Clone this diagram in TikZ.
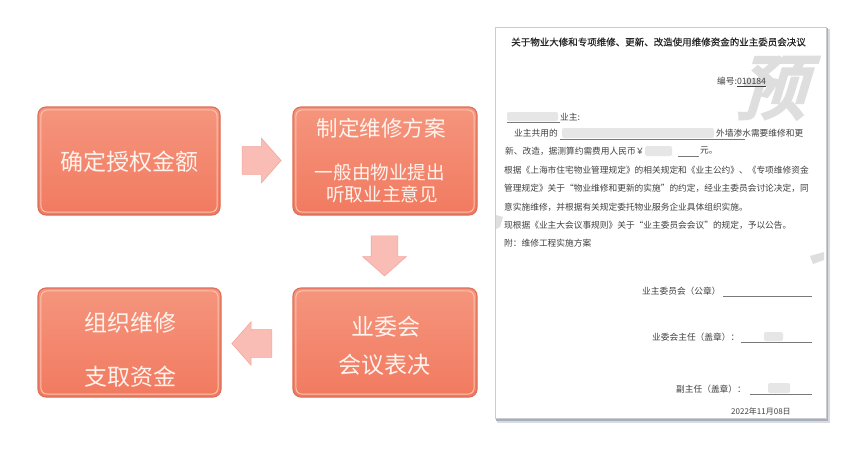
\documentclass[tikz,border=0pt]{standalone}
\usepackage{fontspec}
\setmainfont{Noto Sans CJK SC}
\newfontfamily\wmfont{Noto Sans CJK SC}[FakeBold=5,FakeSlant=0.3]
\newfontfamily\ttlfont{Noto Sans CJK SC}[FakeBold=0.6]
\usetikzlibrary{shapes.arrows}
\definecolor{boxtop}{HTML}{F5957D}
\definecolor{boxbot}{HTML}{F17A60}
\definecolor{boxedge}{HTML}{DD6E56}
\definecolor{boxhl}{HTML}{FBC2AF}
\definecolor{boxtxt}{HTML}{FFF3EE}
\definecolor{arrfill}{HTML}{F9BDB5}
\definecolor{arredge}{HTML}{F2A69D}
\definecolor{doctxt}{HTML}{404040}
\definecolor{docshadow}{HTML}{A9AFB8}
\definecolor{docedge}{HTML}{C9CDD3}
\definecolor{blurc}{HTML}{E6E6E6}
\definecolor{wmc}{HTML}{DEDEDE}
\begin{document}
\begin{tikzpicture}[x=1pt,y=-1pt,
  stepbox/.style={draw=boxedge, line width=1.1pt, rounded corners=8pt, top color=boxtop, bottom color=boxbot, inner sep=0pt},
  boxtext/.style={text=boxtxt, inner sep=0pt, anchor=center},
  blockarrow/.style={single arrow, draw=arredge, fill=arrfill, line width=0.6pt, inner xsep=0pt, inner ysep=13.5pt, single arrow head extend=8.5pt, single arrow tip angle=97},
  doctext/.style={text=doctxt, inner sep=0pt, anchor=west, font=\fontsize{8.7pt}{10pt}\selectfont},
  blur/.style={fill=blurc, rounded corners=2pt},
  uline/.style={draw=doctxt!70, line width=0.5pt}
]
\useasboundingbox (0,0) rectangle (855,467);
\fill[white] (0,0) rectangle (855,467);

% ---- process boxes ----
\node[stepbox, minimum width=182pt, minimum height=108pt] (b1) at (129,161) {};
\node[stepbox, minimum width=184pt, minimum height=108pt] (b2) at (385,161) {};
\node[stepbox, minimum width=184pt, minimum height=109pt] (b3) at (385,342.5) {};
\node[stepbox, minimum width=183pt, minimum height=109pt] (b4) at (129.5,342.5) {};
\foreach \b in {b1,b2,b3,b4}{
  \draw[boxhl, line width=1pt, rounded corners=6pt]
    ([shift={(3.5pt,-3.5pt)}]\b.north west) rectangle ([shift={(-3.5pt,3.5pt)}]\b.south east);
}

\node[boxtext, font=\fontsize{23pt}{26pt}\selectfont] (t1) at (129,162) {确定授权金额};
\node[boxtext, font=\fontsize{21.5pt}{24pt}\selectfont] (t2a) at (381,128) {制定维修方案};
\node[boxtext, font=\fontsize{18.6pt}{21pt}\selectfont] (t2b) at (380,172) {一般由物业提出};
\node[boxtext, font=\fontsize{18.6pt}{21pt}\selectfont] (t2c) at (382,194) {听取业主意见};
\node[boxtext, font=\fontsize{23pt}{26pt}\selectfont] (t3a) at (386,327) {业委会};
\node[boxtext, font=\fontsize{23pt}{26pt}\selectfont] (t3b) at (384,365) {会议表决};
\node[boxtext, font=\fontsize{23pt}{26pt}\selectfont] (t4a) at (130,323) {组织维修};
\node[boxtext, font=\fontsize{23pt}{26pt}\selectfont] (t4b) at (130,377) {支取资金};

% ---- block arrows ----
\node[blockarrow, minimum height=39pt] (a1) at (255.5,160.5) {};
\node[blockarrow, minimum height=40pt, inner xsep=13pt, inner ysep=0pt, shape border rotate=270] (a2) at (384.5,250) {};
\node[blockarrow, minimum height=40pt, single arrow head extend=8pt, shape border rotate=180] (a3) at (258,343.5) {};

% ---- document ----
\fill[docshadow!45] (497,29) rectangle (830,423);
\fill[docshadow] (496,28) rectangle (828,421);
\node[draw=docedge, line width=0.6pt, fill=white, minimum width=331pt, minimum height=391pt, inner sep=0pt, anchor=north west] (doc) at (495,27) {};

% watermark fragments
\node[text=wmc, inner sep=0pt, font=\wmfont\fontsize{70pt}{70pt}\selectfont] (wm) at (770,88) {预};
\fill[wmc] (810,256) -- (824,252) -- (824,260) -- (813,264) -- cycle;
\fill[wmc] (496,215) -- (503,217) -- (500,227) -- (496,229) -- cycle;

\node[text=black!85, inner sep=0pt, font=\ttlfont\fontsize{9.5pt}{11pt}\selectfont] (title) at (658.5,42) {关于物业大修和专项维修、更新、改造使用维修资金的业主委员会决议};

\node[doctext] (no) at (717,82) {编号:\underline{010184}};

\fill[blur] (507,112) rectangle (558,121);
\draw[uline] (507,122.5) -- (560,122.5);
\node[doctext] (l1) at (560,117) {业主:};

\node[doctext] (l2a) at (514,133) {业主共用的};
\fill[blur] (562,128) rectangle (714,138);
\draw[uline] (560,139) -- (745,139);
\node[doctext] (l2b) at (716,133) {外墙渗水需要维修和更};

\node[doctext] (l3) at (505,151) {新、改造，据测算约需费用人民币￥};
\fill[blur] (645,146) rectangle (672,156);
\draw[uline] (678,156.5) -- (699,156.5);
\node[doctext] (l3b) at (700,151) {元。};

\node[doctext] (l4) at (504,170) {根据《上海市住宅物业管理规定》的相关规定和《业主公约》、《专项维修资金};
\node[doctext] (l5) at (504,188.5) {管理规定》关于“物业维修和更新的实施”的约定，经业主委员会讨论决定，同};
\node[doctext] (l6) at (504,207) {意实施维修，并根据有关规定委托物业服务企业具体组织实施。};
\node[doctext] (l7) at (504,225) {现根据《业主大会议事规则》关于“业主委员会会议”的规定，予以公告。};
\node[doctext] (l8) at (504,243.5) {附：维修工程实施方案};

\node[doctext] (s1) at (642,291) {业主委员会（公章）};
\draw[uline] (723,296) -- (812,296);
\node[doctext] (s2) at (652,337) {业委会主任（盖章）：};
\draw[uline] (741,342) -- (812,342);
\fill[blur] (764,332) rectangle (783,341);
\node[doctext] (s3) at (676,389) {副主任（盖章）：};
\draw[uline] (750,394) -- (812,394);
\fill[blur] (768,383) rectangle (790,393);
\node[doctext, font=\fontsize{8pt}{9pt}\selectfont] (date) at (731,411) {2022年11月08日};
\end{tikzpicture}
\end{document}
